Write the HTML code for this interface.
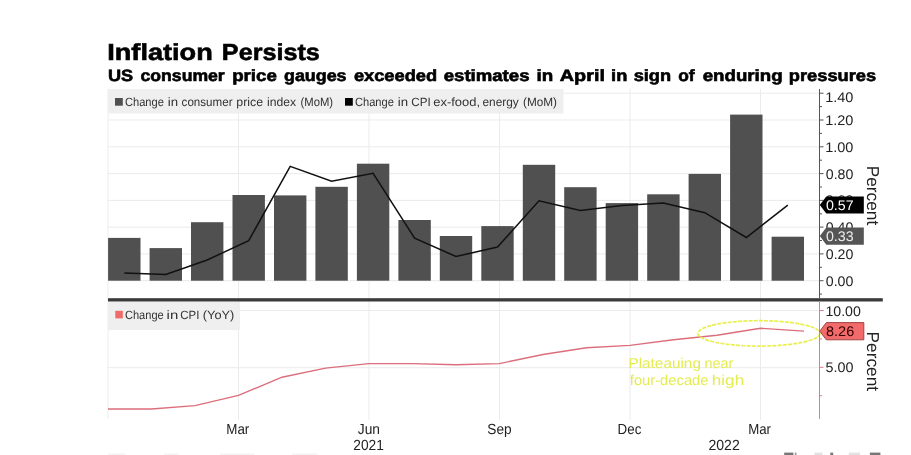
<!DOCTYPE html>
<html><head><meta charset="utf-8"><style>
html,body{margin:0;padding:0;background:#fff;width:911px;height:455px;overflow:hidden}
</style></head><body>
<svg width="911" height="455" viewBox="0 0 911 455" font-family="'Liberation Sans', sans-serif" text-rendering="geometricPrecision" style="position:absolute;left:0;top:0;will-change:transform">
<line x1="108" y1="280.7" x2="819.5" y2="280.7" stroke="#ebebeb" stroke-width="1"/>
<line x1="108" y1="253.9" x2="819.5" y2="253.9" stroke="#ebebeb" stroke-width="1"/>
<line x1="108" y1="227.1" x2="819.5" y2="227.1" stroke="#ebebeb" stroke-width="1"/>
<line x1="108" y1="200.4" x2="819.5" y2="200.4" stroke="#ebebeb" stroke-width="1"/>
<line x1="108" y1="173.6" x2="819.5" y2="173.6" stroke="#ebebeb" stroke-width="1"/>
<line x1="108" y1="146.8" x2="819.5" y2="146.8" stroke="#ebebeb" stroke-width="1"/>
<line x1="108" y1="120.0" x2="819.5" y2="120.0" stroke="#ebebeb" stroke-width="1"/>
<line x1="108" y1="93.2" x2="819.5" y2="93.2" stroke="#ebebeb" stroke-width="1"/>
<line x1="108" y1="310.5" x2="819.5" y2="310.5" stroke="#ebebeb" stroke-width="1"/>
<line x1="108" y1="367.7" x2="819.5" y2="367.7" stroke="#ebebeb" stroke-width="1"/>
<line x1="238.5" y1="89" x2="238.5" y2="420" stroke="#ebebeb" stroke-width="1"/>
<line x1="369.0" y1="89" x2="369.0" y2="420" stroke="#ebebeb" stroke-width="1"/>
<line x1="499.5" y1="89" x2="499.5" y2="420" stroke="#ebebeb" stroke-width="1"/>
<line x1="630.0" y1="89" x2="630.0" y2="420" stroke="#ebebeb" stroke-width="1"/>
<line x1="760.5" y1="89" x2="760.5" y2="420" stroke="#ebebeb" stroke-width="1"/>
<line x1="108" y1="89" x2="108" y2="419" stroke="#ececec" stroke-width="1"/>
<rect x="108" y="89" width="455.5" height="24.5" fill="#efefef"/>
<rect x="115" y="98" width="7.8" height="7.7" fill="#505050"/>
<rect x="345" y="98" width="7.8" height="7.7" fill="#000"/>
<rect x="108.1" y="237.9" width="32.4" height="42.8" fill="#505050"/>
<rect x="149.6" y="248.1" width="32.4" height="32.6" fill="#505050"/>
<rect x="191.0" y="222.2" width="32.4" height="58.5" fill="#505050"/>
<rect x="232.5" y="195.0" width="32.4" height="85.7" fill="#505050"/>
<rect x="274.0" y="195.4" width="32.4" height="85.3" fill="#505050"/>
<rect x="315.4" y="186.8" width="32.4" height="93.9" fill="#505050"/>
<rect x="356.9" y="163.7" width="32.4" height="117.0" fill="#505050"/>
<rect x="398.4" y="220.0" width="32.4" height="60.7" fill="#505050"/>
<rect x="439.8" y="236.0" width="32.4" height="44.7" fill="#505050"/>
<rect x="481.3" y="226.1" width="32.4" height="54.6" fill="#505050"/>
<rect x="522.8" y="164.8" width="32.4" height="115.9" fill="#505050"/>
<rect x="564.2" y="187.2" width="32.4" height="93.5" fill="#505050"/>
<rect x="605.7" y="203.1" width="32.4" height="77.6" fill="#505050"/>
<rect x="647.2" y="194.3" width="32.4" height="86.4" fill="#505050"/>
<rect x="688.6" y="173.9" width="32.4" height="106.8" fill="#505050"/>
<rect x="730.1" y="114.6" width="32.4" height="166.1" fill="#505050"/>
<rect x="771.6" y="236.7" width="32.4" height="44.0" fill="#505050"/>
<polyline points="124.3,273.0 165.8,274.5 207.2,260.0 248.7,240.6 290.2,166.4 331.6,181.2 373.1,173.3 414.6,238.2 456.0,256.5 497.5,247.0 539.0,200.8 580.4,210.6 621.9,205.4 663.4,203.0 704.8,212.7 746.3,237.5 787.8,205.2" fill="none" stroke="#111" stroke-width="1.5" stroke-linejoin="miter"/>
<rect x="108" y="298.2" width="774.8" height="3.3" fill="#3a3a3a"/>
<rect x="108" y="302" width="132" height="28.1" fill="#efefef"/>
<rect x="115.3" y="310.8" width="7.5" height="7.6" fill="#f06a6a"/>
<polyline points="108.0,409.0 151.5,409.0 195.0,405.6 238.5,395.4 282.0,377.2 325.5,368.1 369.0,363.6 412.5,363.6 456.0,364.7 499.5,363.6 543.0,354.5 586.5,347.7 630.0,345.4 673.5,339.7 717.0,335.2 760.5,328.3 804.0,331.1" fill="none" stroke="#dc6e7c" stroke-width="1.4"/>
<ellipse cx="759" cy="333.4" rx="61" ry="12.7" fill="none" stroke="#e8f050" stroke-width="1.7" stroke-dasharray="4,1.2"/>
<line x1="819.5" y1="89" x2="819.5" y2="298" stroke="#555" stroke-width="1"/>
<line x1="819.5" y1="294.1" x2="822.0" y2="294.1" stroke="#555" stroke-width="1"/>
<line x1="819.5" y1="280.7" x2="823.5" y2="280.7" stroke="#555" stroke-width="1"/>
<line x1="819.5" y1="267.3" x2="822.0" y2="267.3" stroke="#555" stroke-width="1"/>
<line x1="819.5" y1="253.9" x2="823.5" y2="253.9" stroke="#555" stroke-width="1"/>
<line x1="819.5" y1="240.5" x2="822.0" y2="240.5" stroke="#555" stroke-width="1"/>
<line x1="819.5" y1="227.1" x2="823.5" y2="227.1" stroke="#555" stroke-width="1"/>
<line x1="819.5" y1="213.8" x2="822.0" y2="213.8" stroke="#555" stroke-width="1"/>
<line x1="819.5" y1="200.4" x2="823.5" y2="200.4" stroke="#555" stroke-width="1"/>
<line x1="819.5" y1="187.0" x2="822.0" y2="187.0" stroke="#555" stroke-width="1"/>
<line x1="819.5" y1="173.6" x2="823.5" y2="173.6" stroke="#555" stroke-width="1"/>
<line x1="819.5" y1="160.2" x2="822.0" y2="160.2" stroke="#555" stroke-width="1"/>
<line x1="819.5" y1="146.8" x2="823.5" y2="146.8" stroke="#555" stroke-width="1"/>
<line x1="819.5" y1="133.4" x2="822.0" y2="133.4" stroke="#555" stroke-width="1"/>
<line x1="819.5" y1="120.0" x2="823.5" y2="120.0" stroke="#555" stroke-width="1"/>
<line x1="819.5" y1="106.6" x2="822.0" y2="106.6" stroke="#555" stroke-width="1"/>
<line x1="819.5" y1="93.2" x2="823.5" y2="93.2" stroke="#555" stroke-width="1"/>
<line x1="819.5" y1="302" x2="819.5" y2="419" stroke="#e07a86" stroke-width="1"/>
<line x1="819.5" y1="310.5" x2="823.5" y2="310.5" stroke="#e07a86" stroke-width="1"/>
<line x1="819.5" y1="338.9" x2="822.0" y2="338.9" stroke="#e07a86" stroke-width="1"/>
<line x1="819.5" y1="367.3" x2="823.5" y2="367.3" stroke="#e07a86" stroke-width="1"/>
<line x1="819.5" y1="395.7" x2="822.0" y2="395.7" stroke="#e07a86" stroke-width="1"/>
<text transform="translate(124.94,105.80) scale(0.9267,1)" font-size="12" fill="#333">Change</text>
<text transform="translate(167.72,105.80) scale(1.1026,1)" font-size="12" fill="#333">in</text>
<text transform="translate(181.62,105.80) scale(0.9654,1)" font-size="12" fill="#333">consumer</text>
<text transform="translate(236.28,105.80) scale(1.0283,1)" font-size="12" fill="#333">price</text>
<text transform="translate(266.99,105.80) scale(1.0144,1)" font-size="12" fill="#333">index</text>
<text transform="translate(300.54,105.80) scale(0.9398,1)" font-size="12" fill="#333">(MoM)</text>
<text transform="translate(354.94,105.80) scale(0.9267,1)" font-size="12" fill="#333">Change</text>
<text transform="translate(397.72,105.80) scale(1.1026,1)" font-size="12" fill="#333">in</text>
<text transform="translate(411.22,105.80) scale(0.9727,1)" font-size="12" fill="#333">CPI</text>
<text transform="translate(433.26,105.80) scale(1.0789,1)" font-size="12" fill="#333">ex-food,</text>
<text transform="translate(482.51,105.80) scale(0.9890,1)" font-size="12" fill="#333">energy</text>
<text transform="translate(523.01,105.80) scale(0.9819,1)" font-size="12" fill="#333">(MoM)</text>
<text transform="translate(124.95,318.70) scale(0.9218,1)" font-size="12" fill="#333">Change</text>
<text transform="translate(166.61,318.70) scale(1.2436,1)" font-size="12" fill="#333">in</text>
<text transform="translate(180.23,318.70) scale(0.9563,1)" font-size="12" fill="#333">CPI</text>
<text transform="translate(202.86,318.70) scale(1.0641,1)" font-size="12" fill="#333">(YoY)</text>
<text transform="translate(628.41,368.30) scale(1.0733,1)" font-size="14.3" fill="#e4ec52">Plateauing</text>
<text transform="translate(704.49,368.30) scale(1.0073,1)" font-size="14.3" fill="#e4ec52">near</text>
<text transform="translate(629.79,385.20) scale(1.0318,1)" font-size="14.3" fill="#e4ec52">four-decade</text>
<text transform="translate(711.70,385.20) scale(1.2032,1)" font-size="14.3" fill="#e4ec52">high</text>
<text transform="translate(825.79,285.70) scale(1.0115,1)" font-size="14" fill="#222">0.00</text>
<text transform="translate(825.79,258.92) scale(1.0115,1)" font-size="14" fill="#222">0.20</text>
<text transform="translate(825.79,232.14) scale(1.0115,1)" font-size="14" fill="#222">0.40</text>
<text transform="translate(825.79,205.36) scale(1.0115,1)" font-size="14" fill="#222">0.60</text>
<text transform="translate(825.79,178.58) scale(1.0115,1)" font-size="14" fill="#222">0.80</text>
<text transform="translate(825.16,151.80) scale(1.0352,1)" font-size="14" fill="#222">1.00</text>
<text transform="translate(825.16,125.02) scale(1.0352,1)" font-size="14" fill="#222">1.20</text>
<text transform="translate(825.16,101.94) scale(1.0352,1)" font-size="14" fill="#222">1.40</text>
<text transform="translate(825.39,315.50) scale(1.0120,1)" font-size="14" fill="#222">10.00</text>
<text transform="translate(825.59,372.30) scale(1.0230,1)" font-size="14" fill="#222">5.00</text>
<text transform="translate(226.30,433.60) scale(0.9156,1)" font-size="14.6" fill="#222">Mar</text>
<text transform="translate(357.81,433.60) scale(0.9420,1)" font-size="14.6" fill="#222">Jun</text>
<text transform="translate(487.35,433.60) scale(0.9352,1)" font-size="14.6" fill="#222">Sep</text>
<text transform="translate(617.60,433.60) scale(0.9139,1)" font-size="14.6" fill="#222">Dec</text>
<text transform="translate(748.21,433.60) scale(0.9072,1)" font-size="14.6" fill="#222">Mar</text>
<text transform="translate(353.24,449.80) scale(0.9421,1)" font-size="14.6" fill="#222">2021</text>
<text transform="translate(708.42,449.80) scale(0.9645,1)" font-size="14.6" fill="#222">2022</text>
<text transform="translate(107.24,59.50) scale(1.1707,1)" font-size="23.2" font-weight="bold" stroke="#000" stroke-width="0.6" fill="#000">Inflation</text>
<text transform="translate(221.87,59.50) scale(1.0854,1)" font-size="23.2" font-weight="bold" stroke="#000" stroke-width="0.6" fill="#000">Persists</text>
<text transform="translate(107.89,80.50) scale(1.1143,1)" font-size="16.3" font-weight="bold" stroke="#000" stroke-width="0.6" fill="#000">US</text>
<text transform="translate(140.55,80.50) scale(1.0817,1)" font-size="16.3" font-weight="bold" stroke="#000" stroke-width="0.6" fill="#000">consumer</text>
<text transform="translate(232.14,80.50) scale(1.1475,1)" font-size="16.3" font-weight="bold" stroke="#000" stroke-width="0.6" fill="#000">price</text>
<text transform="translate(284.03,80.50) scale(1.0969,1)" font-size="16.3" font-weight="bold" stroke="#000" stroke-width="0.6" fill="#000">gauges</text>
<text transform="translate(353.93,80.50) scale(1.1198,1)" font-size="16.3" font-weight="bold" stroke="#000" stroke-width="0.6" fill="#000">exceeded</text>
<text transform="translate(443.71,80.50) scale(1.1419,1)" font-size="16.3" font-weight="bold" stroke="#000" stroke-width="0.6" fill="#000">estimates</text>
<text transform="translate(536.43,80.50) scale(1.1532,1)" font-size="16.3" font-weight="bold" stroke="#000" stroke-width="0.6" fill="#000">in</text>
<text transform="translate(559.81,80.50) scale(1.2163,1)" font-size="16.3" font-weight="bold" stroke="#000" stroke-width="0.6" fill="#000">April</text>
<text transform="translate(611.07,80.50) scale(1.1210,1)" font-size="16.3" font-weight="bold" stroke="#000" stroke-width="0.6" fill="#000">in</text>
<text transform="translate(633.63,80.50) scale(1.1191,1)" font-size="16.3" font-weight="bold" stroke="#000" stroke-width="0.6" fill="#000">sign</text>
<text transform="translate(678.16,80.50) scale(1.0676,1)" font-size="16.3" font-weight="bold" stroke="#000" stroke-width="0.6" fill="#000">of</text>
<text transform="translate(702.71,80.50) scale(1.1471,1)" font-size="16.3" font-weight="bold" stroke="#000" stroke-width="0.6" fill="#000">enduring</text>
<text transform="translate(788.87,80.50) scale(1.1207,1)" font-size="16.3" font-weight="bold" stroke="#000" stroke-width="0.6" fill="#000">pressures</text>
<path d="M819.8,205.0 L826.3,196.4 L863.8,196.4 L863.8,213.6 L826.3,213.6 Z" fill="#000"/>
<path d="M819.8,236.1 L826.3,227.5 L863.8,227.5 L863.8,244.7 L826.3,244.7 Z" fill="#555"/>
<path d="M819.8,331.2 L826.3,322.6 L863.8,322.6 L863.8,339.8 L826.3,339.8 Z" fill="#f26a6a" stroke="#a04545" stroke-width="1"/>
<text transform="translate(825.89,210.00) scale(1.0192,1)" font-size="14" fill="#fff">0.57</text>
<text transform="translate(825.89,241.10) scale(1.0153,1)" font-size="14" fill="#eee">0.33</text>
<text transform="translate(826.08,336.20) scale(1.0308,1)" font-size="14" fill="#300">8.26</text>
<rect x="784.2" y="452.6" width="9.2" height="2.4" fill="#777"/>
<rect x="794.8" y="452.6" width="1.7" height="2.4" fill="#999"/>
<rect x="814.5" y="452.6" width="7.9" height="2.4" fill="#e2e2e2"/>
<rect x="830.3" y="452.6" width="2.9" height="2.4" fill="#777"/>
<rect x="848.8" y="452.6" width="11.2" height="2.4" fill="#e2e2e2"/>
<rect x="869.9" y="452.6" width="10.5" height="2.4" fill="#777"/>
<rect x="108" y="453.5" width="17.0" height="1.5" fill="#f4f4f4"/>
<rect x="164" y="453.5" width="15.0" height="1.5" fill="#f4f4f4"/>
<rect x="220" y="453.5" width="34.6" height="1.5" fill="#f4f4f4"/>
<rect x="292" y="453.5" width="25.0" height="1.5" fill="#f4f4f4"/>
<text transform="translate(867.2,195.45) rotate(90)" text-anchor="middle" font-size="17.3" fill="#222">Percent</text>
<text transform="translate(867.2,361.35) rotate(90)" text-anchor="middle" font-size="17.3" fill="#222">Percent</text>
</svg>
</body></html>
